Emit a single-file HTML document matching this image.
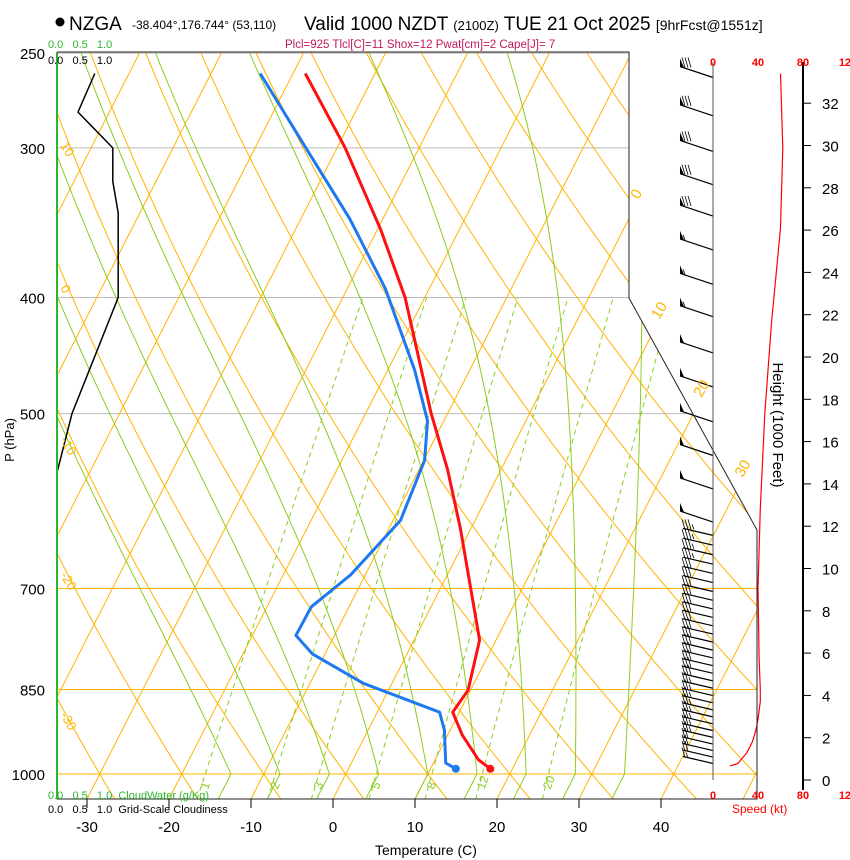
<!DOCTYPE html>
<html><head><meta charset="utf-8"><style>
body{margin:0;background:#fff;}
svg{display:block;font-family:"Liberation Sans",sans-serif;}
</style></head><body>
<svg id="chart" width="850" height="860" viewBox="0 0 850 860">
<defs><clipPath id="plotclip"><polygon points="57,52 629,52 629,298 757,530 757,799 57,799"/></clipPath></defs>
<g id="grid" clip-path="url(#plotclip)"></g>
<g id="profiles"></g>
<g id="frame"></g>
<g id="labels">
<circle cx="60" cy="22" r="4.5" fill="#000"/>
<text x="69" y="30" font-size="19">NZGA</text>
<text x="132" y="29" font-size="12">-38.404°,176.744° (53,110)</text>
<text x="304" y="30" font-size="19">Valid 1000 NZDT <tspan font-size="13">(2100Z)</tspan> TUE 21 Oct 2025 <tspan font-size="14">[9hrFcst@1551z]</tspan></text>
<text x="285" y="48" font-size="11.5" fill="#c0185a">Plcl=925 Tlcl[C]=11 Shox=12 Pwat[cm]=2 Cape[J]= 7</text>
<text x="48" y="48" font-size="11" fill="#2db52d">0.0 &#160; 0.5 &#160; 1.0</text>
<text x="48" y="64" font-size="11" fill="#000">0.0 &#160; 0.5 &#160; 1.0</text>
<text x="48" y="799" font-size="11" fill="#2db52d">0.0 &#160; 0.5 &#160; 1.0 &#160;CloudWater (g/Kg)</text>
<text x="48" y="813" font-size="11" fill="#000">0.0 &#160; 0.5 &#160; 1.0 &#160;Grid-Scale Cloudiness</text>
<text x="375" y="855" font-size="14">Temperature (C)</text>
<text transform="translate(14,440) rotate(-90)" text-anchor="middle" font-size="13">P (hPa)</text>
<text transform="translate(773,425) rotate(90)" text-anchor="middle" font-size="15">Height (1000 Feet)</text>
<text x="732" y="813" font-size="12" fill="red">Speed (kt)</text>
</g>
</svg>
<script>
const pressureTicks=[250,300,400,500,700,850,1000];
const tempTicks=[-30,-20,-10,0,10,20,30,40];
const tempP=[990,973,928,888,851,773,700,625,557,500,400,351,300,260];
const tempT=[17.3,15.3,11.8,9.2,9.7,8.0,3.7,-1.2,-6.5,-12.0,-22.4,-29.6,-39,-48.5];
const dewP=[990,979,919,888,840,794,766,725,682,614,547,507,460,393,344,295,260];
const dewT=[13.1,11.5,9.3,7.6,-3.5,-11.5,-14.7,-14.6,-11.8,-9.1,-9.9,-12,-16.7,-25.4,-34,-45,-54];
const cloudP=[260,280,300,320,340,400,500,560];
const cloudV=[0.63,0.35,0.93,0.93,1.02,1.02,0.25,0];
const windP=[262,282,302,322,342,365,390,415,445,475,508,542,578,616,632,644,656,668,680,692,704,716,728,740,752,764,776,788,800,812,824,836,848,860,872,884,896,908,920,932,944,956,968,980];
const windS=[80,80,80,80,80,55,55,55,50,50,50,50,50,50,35,35,35,35,30,30,30,30,30,30,30,30,30,30,30,30,30,30,25,25,25,25,25,25,25,25,20,20,20,15];
const speedP=[985,980,960,940,920,900,870,850,800,700,600,500,420,350,300,260];
const speedS=[15,22,30,35,38,40,42,42,41,40,42,46,52,60,62,60];
const heightTicks=[0,2,4,6,8,10,12,14,16,18,20,22,24,26,28,30,32];
const dryThetas=[-30,-20,-10,0,10,20,30,40,50,60,70,80,90,100,110,120,130,140,150];
const moistStarts=[-14,-8,-2,4,10,16,22,28,34];
const mixRatios=[1,2,3,5,8,12,20];

const NS='http://www.w3.org/2000/svg';
function Y(p){return 774-520*Math.log(1000/p);}
function X(T,p){return 333+8.2*T+0.51*(799-Y(p));}
function mk(tag,attrs,parent){const e=document.createElementNS(NS,tag);for(const k in attrs)e.setAttribute(k,attrs[k]);parent.appendChild(e);return e;}
const grid=document.getElementById('grid'),prof=document.getElementById('profiles'),frame=document.getElementById('frame'),lab=document.getElementById('labels');
function pathFrom(pts){return 'M'+pts.map(q=>q[0].toFixed(1)+','+q[1].toFixed(1)).join('L');}
const ORANGE='#ffb400',GREEN='#8ccc1e';
pressureTicks.forEach(p=>{
 const col=(p>=700)?ORANGE:'#bbb';
 const l=mk('line',{x1:57,x2:757,y1:Y(p),y2:Y(p),stroke:col,'stroke-width':1},grid);
 
 const t=mk('text',{x:45,y:Y(p)+6,'text-anchor':'end','font-size':15},lab);t.textContent=p;
 
});
for(let T=-110;T<=50;T+=10){
 const l=mk('line',{x1:X(T,1050),y1:Y(1050),x2:X(T,240),y2:Y(240),stroke:ORANGE,'stroke-width':1},grid);
 
}
[[0,200],[10,320],[20,398],[30,478]].forEach(a=>{const p=1000*Math.exp(-(774-a[1])/520);
 const t=mk('text',{x:X(a[0],p),y:a[1],'font-size':15,fill:ORANGE,transform:`rotate(-60 ${X(a[0],p)} ${a[1]})`},lab);t.textContent=a[0];
 });
dryThetas.forEach(th=>{const pts=[];for(let p=1050;p>=240;p-=10){pts.push([X((th+273.15)*Math.pow(p/1000,0.286)-273.15,p),Y(p)]);}
 const e=mk('path',{d:pathFrom(pts),fill:'none',stroke:ORANGE,'stroke-width':1},grid);
 });
[[10,145],[0,288],[-10,440],[-20,575],[-30,715]].forEach(a=>{const t=mk('text',{x:60,y:a[1],'font-size':13,fill:ORANGE,transform:`rotate(60 60 ${a[1]})`},lab);t.textContent=a[0];
 });
function es(T){return 6.112*Math.exp(17.67*T/(T+243.5));}
moistStarts.forEach(T0=>{let T=T0+273.15;const pts=[[X(T0,1050),Y(1050)]];let p=1000;pts.push([X(T0,1000),Y(1000)]);
 while(p>250){const Tc=T-273.15;const e=es(Tc);const rs=0.622*e/(p-e);
  const dTdp=(287*T+2.5e6*rs)/(1004+2.5e6*2.5e6*rs*0.622/(287*T*T))/p;T-=dTdp*5;p-=5;pts.push([X(T-273.15,p),Y(p)]);}
 const el=mk('path',{d:pathFrom(pts),fill:'none',stroke:GREEN,'stroke-width':1},grid);
 });
mixRatios.forEach(w=>{const pts=[];for(let p=1050;p>=400;p-=10){const e=w/1000*p/(0.622+w/1000);const L=Math.log(e/6.112);const T=243.5*L/(17.67-L);pts.push([X(T,p),Y(p)]);}
 const el=mk('path',{d:pathFrom(pts),fill:'none',stroke:GREEN,'stroke-width':1,'stroke-dasharray':'5,4'},grid);
 
 const e=w/1000*985/(0.622+w/1000);const L=Math.log(e/6.112);const T=243.5*L/(17.67-L);const x=X(T,985);
 const t=mk('text',{x:x,y:790,'font-size':12,fill:GREEN,transform:`rotate(-70 ${x} 790)`},lab);t.textContent=w;
 });
{const e=mk('polyline',{points:'57,52 629,52 629,298 757,530 757,799 57,799 57,52',fill:'none',stroke:'#222','stroke-width':1},frame);}
const gl=mk('line',{x1:57,x2:57,y1:52,y2:799,stroke:'#2db52d','stroke-width':2},frame);
tempTicks.forEach(T=>{const x=333+8.2*T;mk('line',{x1:x,x2:x,y1:799,y2:808,stroke:'#000'},frame);
 const t=mk('text',{x:x,y:832,'text-anchor':'middle','font-size':15},lab);t.textContent=T;
 });
{const pts=cloudP.map((p,i)=>[57+60*cloudV[i],Y(p)]);const e=mk('path',{d:pathFrom(pts),fill:'none',stroke:'#000','stroke-width':1.5},prof);
 }
{const e=mk('path',{d:pathFrom(tempP.map((p,i)=>[X(tempT[i],p),Y(p)])),fill:'none',stroke:'#ff1010','stroke-width':3,'stroke-linejoin':'round'},prof);
 
 const c=mk('circle',{cx:X(tempT[0],tempP[0]),cy:Y(tempP[0]),r:4,fill:'#ff1010'},prof);}
{const e=mk('path',{d:pathFrom(dewP.map((p,i)=>[X(dewT[i],p),Y(p)])),fill:'none',stroke:'#1e78f0','stroke-width':3,'stroke-linejoin':'round'},prof);
 
 const c=mk('circle',{cx:X(dewT[0],dewP[0]),cy:Y(dewP[0]),r:4,fill:'#1e78f0'},prof);}
{const l=mk('line',{x1:713,x2:713,y1:62,y2:780,stroke:'#555'},frame);
 const h=mk('line',{x1:803,x2:803,y1:62,y2:790,stroke:'#000','stroke-width':2},frame);}
windP.forEach((p,i)=>{const y=Y(p);const dense=p>620;const x2=dense?683:680,y2=dense?y-7:y-11;const g=mk('g',{},prof);
 
 mk('line',{x1:713,y1:y,x2:x2,y2:y2,stroke:'#000','stroke-width':1.2},g);
 let s=windS[i],k=0;
 while(s>=50){const xx=x2+k*4;mk('polygon',{points:`${xx},${y2} ${xx+4},${y2+1} ${xx},${y2-8}`,fill:'#000'},g);k++;s-=50;}
 while(s>=10){const xx=x2+k*3+2;mk('line',{x1:xx,y1:y2+1,x2:xx-3,y2:y2-9,stroke:'#000','stroke-width':0.8},g);k++;s-=10;}
 if(s>=5){const xx=x2+k*3+2;mk('line',{x1:xx,y1:y2+1,x2:xx-2,y2:y2-4,stroke:'#000','stroke-width':0.8},g);}
});
[0,40,80,120].forEach(v=>{const x=713+v*1.125;const t=mk('text',{x:x,y:66,'text-anchor':'middle','font-size':11,fill:'red','font-weight':'bold'},lab);t.textContent=v;
 
 const b=mk('text',{x:x,y:799,'text-anchor':'middle','font-size':11,fill:'red','font-weight':'bold'},lab);b.textContent=v;
 });
{const e=mk('path',{d:pathFrom(speedP.map((p,i)=>[713+1.125*speedS[i],Y(p)])),fill:'none',stroke:'red','stroke-width':1.2},prof);
 }
heightTicks.forEach(h=>{const y=780-21.15*h;mk('line',{x1:803,x2:811,y1:y,y2:y,stroke:'#000'},frame);
 const t=mk('text',{x:822,y:y+6,'font-size':15},lab);t.textContent=h;
 });
</script>
</body></html>
